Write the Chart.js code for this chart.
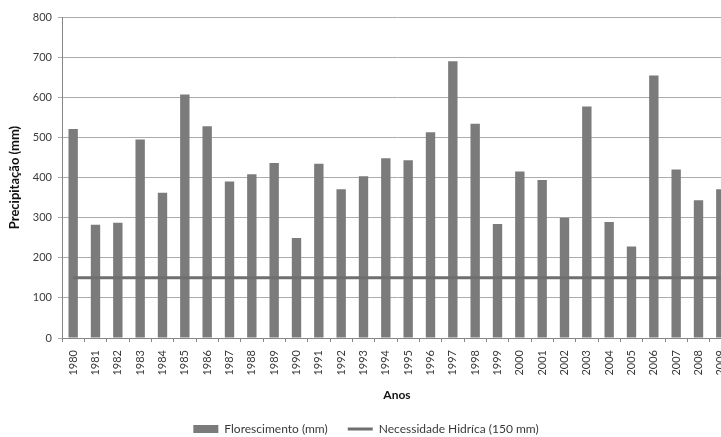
<!DOCTYPE html>
<html>
<head>
<meta charset="utf-8">
<script src="https://cdn.jsdelivr.net/npm/chart.js@4/dist/chart.umd.min.js"></script>
<style>
  html, body { margin: 0; padding: 0; background: #fff; overflow: hidden; width: 721px; height: 437px; }
  #wrap { position: relative; width: 744px; height: 437px; }
</style>
</head>
<body>
<div id="wrap"><canvas id="grafico"></canvas></div>
<script>
// Anos da série
const anos = ['1980','1981','1982','1983','1984','1985','1986','1987','1988','1989',
              '1990','1991','1992','1993','1994','1995','1996','1997','1998','1999',
              '2000','2001','2002','2003','2004','2005','2006','2007','2008','2009'];

// Precipitação no florescimento (mm)
const florescimento = [521, 282, 287, 495, 362, 607, 528, 390, 408, 436,
                       249, 434, 371, 403, 448, 443, 513, 690, 534, 284,
                       415, 394, 300, 577, 289, 228, 654, 420, 343, 371];

// Necessidade hídrica da cultura (mm)
const necessidadeHidrica = [150, 150, 150, 150, 150, 150, 150, 150, 150, 150,
                            150, 150, 150, 150, 150, 150, 150, 150, 150, 150,
                            150, 150, 150, 150, 150, 150, 150, 150, 150, 150];

// Escala do eixo de precipitação
const eixoY = { min: 0, max: 800, passo: 100 };

const fonte = "Lato, 'Open Sans', sans-serif";
const corTexto = '#3a3a3a';

new Chart(document.getElementById('grafico'), {
  data: {
    labels: anos,
    datasets: [
      {
        type: 'bar',
        label: 'Florescimento (mm)',
        data: florescimento,
        backgroundColor: '#7b7b7b',
        borderWidth: 0,
        barPercentage: 0.42,
        categoryPercentage: 1,
        order: 1
      },
      {
        type: 'line',
        label: 'Necessidade Hidríca (150 mm)',
        data: necessidadeHidrica,
        borderColor: '#6f6f6f',
        borderWidth: 3,
        pointRadius: 0,
        fill: false,
        order: 0
      }
    ]
  },
  options: {
    responsive: true,
    maintainAspectRatio: false,
    devicePixelRatio: 1,
    animation: false,
    layout: { padding: { top: 17, right: 12, bottom: 0, left: 0 } },
    scales: {
      x: {
        offset: true,
        grid: { display: true, drawOnChartArea: false, drawTicks: true, tickLength: 4, color: '#868686', offset: true },
        border: { color: '#868686' },
        ticks: {
          autoSkip: false, maxRotation: 90, minRotation: 90,
          padding: 8, color: corTexto,
          font: { family: fonte, size: 11 }
        },
        title: {
          display: true, text: 'Anos', color: '#111',
          font: { family: fonte, size: 12, weight: 'bold' },
          padding: { top: 0, bottom: 1 }
        },
        afterFit: (s) => { s.height = 65; }
      },
      y: {
        min: eixoY.min, max: eixoY.max,
        grid: { color: '#acacac', tickLength: 4 },
        border: { color: '#868686' },
        ticks: {
          stepSize: eixoY.passo, padding: 6, color: corTexto,
          font: { family: fonte, size: 11 }
        },
        title: {
          display: true, text: 'Precipitação (mm)', color: '#111',
          font: { family: fonte, size: 13, weight: 'bold' },
          padding: { top: 7, bottom: 0 }
        },
        afterFit: (s) => { s.width = 62; }
      }
    },
    plugins: {
      tooltip: { enabled: false },
      legend: {
        position: 'bottom',
        maxHeight: 34,
        labels: {
          usePointStyle: true,
          pointStyleWidth: 25,
          boxHeight: 8,
          padding: 20,
          color: corTexto,
          font: { family: fonte, size: 12 },
          sort: (a, b) => a.datasetIndex - b.datasetIndex,
          generateLabels: (chart) => {
            const itens = Chart.defaults.plugins.legend.labels.generateLabels(chart);
            itens.forEach((it) => {
              it.pointStyle = it.datasetIndex === 0 ? 'rect' : 'line';
            });
            return itens;
          }
        }
      }
    }
  }
});
</script>
</body>
</html>
